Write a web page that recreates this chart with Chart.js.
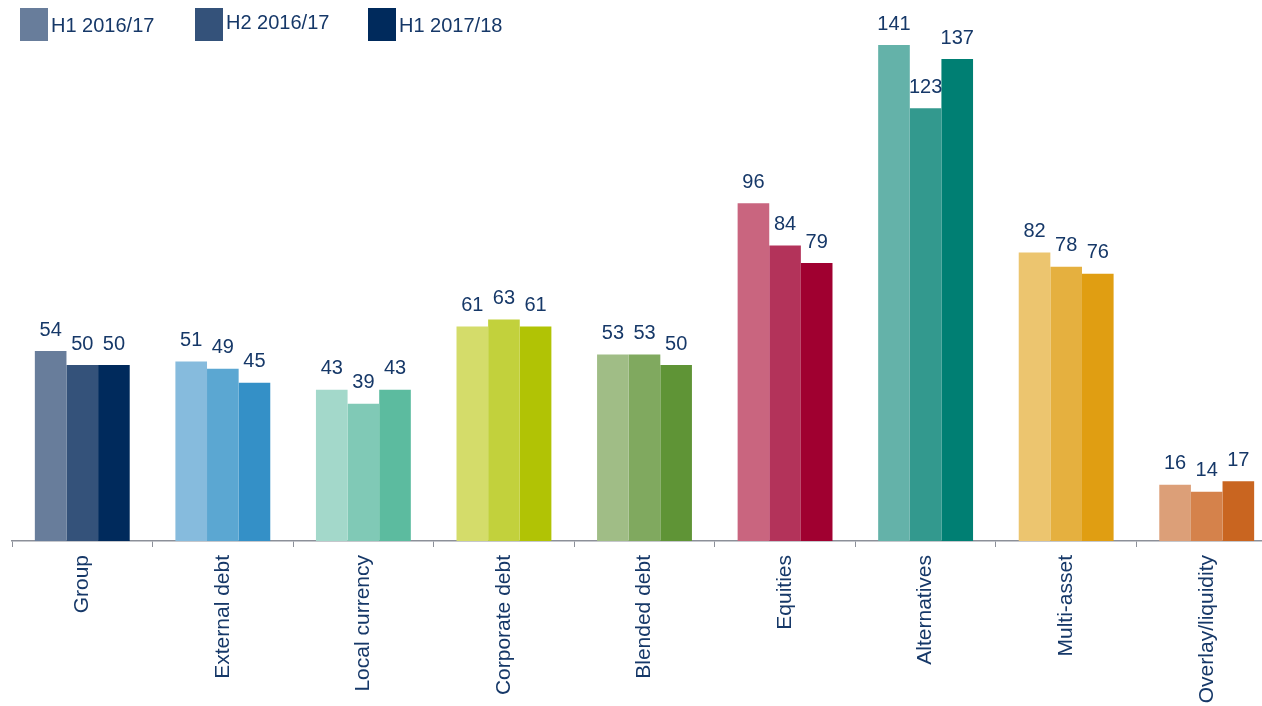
<!DOCTYPE html>
<html>
<head>
<meta charset="utf-8">
<script src="https://cdn.jsdelivr.net/npm/chart.js@4/dist/chart.umd.min.js"></script>
<style>
  html, body { margin: 0; padding: 0; background: #fff; overflow: hidden; }
  #wrap { position: absolute; left: 0; top: 0; width: 1280px; height: 706px; }
</style>
</head>
<body>
<div id="wrap"><canvas id="chart"></canvas></div>
<script>
// categories and series
const categories = ["Group", "External debt", "Local currency", "Corporate debt", "Blended debt", "Equities", "Alternatives", "Multi-asset", "Overlay/liquidity"];
const seriesLabels = ["H1 2016/17", "H2 2016/17", "H1 2017/18"];
const h1_1617 = [54, 51, 43, 61, 53, 96, 141, 82, 16];
const h2_1617 = [50, 49, 39, 63, 53, 84, 123, 78, 14];
const h1_1718 = [50, 45, 43, 61, 50, 79, 137, 76, 17];

// colours: one shade per series for each category
const shade1 = ["#687d9b", "#86bbdd", "#a3d8ca", "#d4dc6a", "#a0bd86", "#c9657f", "#64b2a9", "#ecc56f", "#dc9f78"];
const shade2 = ["#34527a", "#5ba7d2", "#80c9b6", "#c2d13c", "#80a95f", "#b3335a", "#33998e", "#e5b03f", "#d5824b"];
const shade3 = ["#002a5c", "#3490c7", "#5cbb9f", "#b1c305", "#5f9436", "#a00030", "#007f73", "#e09e12", "#c96520"];

const TEXT = "#163868";
const FONT = "'Liberation Sans', Arial, sans-serif";

// value labels above each bar
const valueLabels = {
  id: "valueLabels",
  afterDatasetsDraw(chart) {
    const ctx = chart.ctx;
    ctx.save();
    ctx.font = "20px " + FONT;
    ctx.fillStyle = TEXT;
    ctx.textAlign = "center";
    ctx.textBaseline = "alphabetic";
    chart.data.datasets.forEach((ds, i) => {
      chart.getDatasetMeta(i).data.forEach((bar, j) => {
        ctx.fillText(String(ds.data[j]), bar.x, bar.y - 15.5);
      });
    });
    ctx.restore();
  }
};

// legend drawn at the top left, over the plot
const topLegend = {
  id: "topLegend",
  afterDraw(chart) {
    const ctx = chart.ctx;
    const xs = [20, 195, 368];
    const base = [32, 29, 32];
    ctx.save();
    ctx.font = "20px " + FONT;
    ctx.textBaseline = "alphabetic";
    chart.data.datasets.forEach((ds, i) => {
      ctx.fillStyle = ds.backgroundColor[0];
      ctx.fillRect(xs[i], 8, 28, 33);
      ctx.fillStyle = TEXT;
      ctx.fillText(ds.label, xs[i] + 31, base[i]);
    });
    ctx.restore();
  }
};

new Chart(document.getElementById("chart"), {
  type: "bar",
  data: {
    labels: categories,
    datasets: [
      { label: seriesLabels[0], data: h1_1617, backgroundColor: shade1 },
      { label: seriesLabels[1], data: h2_1617, backgroundColor: shade2 },
      { label: seriesLabels[2], data: h1_1718, backgroundColor: shade3 }
    ]
  },
  options: {
    responsive: true,
    maintainAspectRatio: false,
    animation: false,
    layout: { padding: { left: 12, right: 3, top: 0, bottom: 0 } },
    datasets: {
      bar: { categoryPercentage: 0.675, barPercentage: 1.0, borderWidth: 0 }
    },
    plugins: {
      legend: { display: false },
      tooltip: { enabled: false }
    },
    scales: {
      x: {
        offset: true,
        afterFit: (s) => { s.height = 165; },
        grid: {
          offset: true,
          drawOnChartArea: false,
          drawTicks: true,
          tickLength: 6,
          color: "#8c9099"
        },
        border: { display: true, color: "#8c9099", width: 1.5 },
        ticks: {
          autoSkip: false,
          minRotation: 90,
          maxRotation: 90,
          padding: 8,
          color: TEXT,
          font: { family: FONT, size: 21 }
        }
      },
      y: {
        display: false,
        min: 0,
        max: 153.8
      }
    }
  },
  plugins: [valueLabels, topLegend]
});
</script>
</body>
</html>
